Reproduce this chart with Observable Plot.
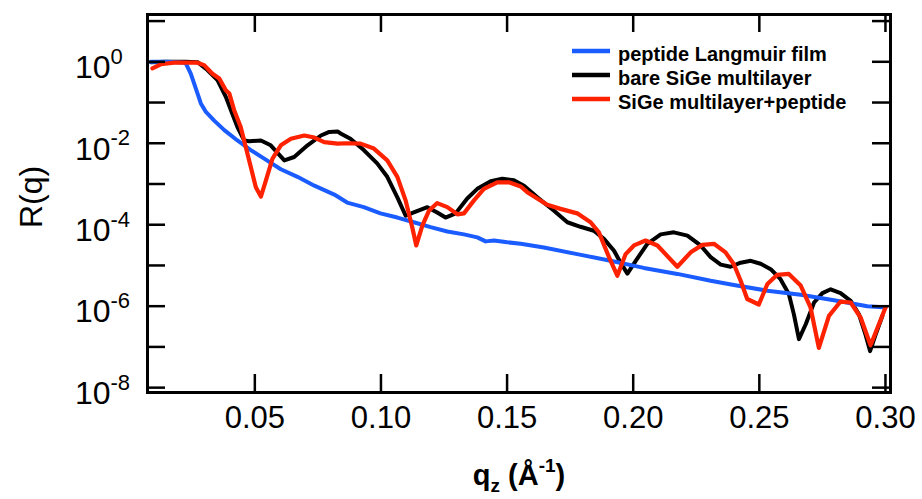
<!DOCTYPE html>
<html><head><meta charset="utf-8">
<script src="https://cdn.jsdelivr.net/npm/d3@7"></script>
<script src="https://cdn.jsdelivr.net/npm/@observablehq/plot@0.6"></script>
<style>body{margin:0;background:#fff}#chart svg{display:block}</style>
</head><body><div id="chart"></div>
<script>
const seriesNames = ["peptide Langmuir film", "bare SiGe multilayer", "SiGe multilayer+peptide"];
const seriesColors = ["#1a5cff", "#000000", "#ff2200"];

const qLangmuir = [0.0088, 0.015, 0.0225, 0.0246, 0.0273, 0.0286, 0.0306, 0.0339, 0.0379, 0.0431, 0.0484, 0.0537, 0.0603, 0.0669, 0.0736, 0.0815, 0.0866, 0.0932, 0.0998, 0.1065, 0.1130, 0.1197, 0.1263, 0.1329, 0.1382, 0.1415, 0.1448, 0.1501, 0.1554, 0.1646, 0.1778, 0.1910, 0.2042, 0.2175, 0.2307, 0.2399, 0.2532, 0.2664, 0.2796, 0.2928, 0.3001];
const rLangmuir = [1.0, 1.0, 0.95, 0.51, 0.166, 0.095, 0.059, 0.036, 0.021, 0.0117, 0.0068, 0.0042, 0.0023, 0.0015, 9.1e-4, 5.5e-4, 3.5e-4, 2.7e-4, 1.9e-4, 1.5e-4, 1.15e-4, 8.7e-5, 6.8e-5, 5.8e-5, 4.9e-5, 3.9e-5, 4.1e-5, 3.7e-5, 3.4e-5, 2.75e-5, 1.9e-5, 1.3e-5, 8.7e-6, 6.2e-6, 4.2e-6, 3.3e-6, 2.4e-6, 1.9e-6, 1.4e-6, 1.0e-6, 9.3e-7];

const qBare = [0.0088, 0.015, 0.0225, 0.0273, 0.0312, 0.0352, 0.0385, 0.0405, 0.0431, 0.0458, 0.0478, 0.0524, 0.0563, 0.0617, 0.0656, 0.0709, 0.0762, 0.0795, 0.0828, 0.0840, 0.0879, 0.0932, 0.0985, 0.1025, 0.1065, 0.1098, 0.1130, 0.1184, 0.1223, 0.1256, 0.1296, 0.1342, 0.1382, 0.1435, 0.1481, 0.1527, 0.1567, 0.1620, 0.1686, 0.1739, 0.1791, 0.1844, 0.1884, 0.1924, 0.1950, 0.1977, 0.2010, 0.2056, 0.2109, 0.2161, 0.2215, 0.2267, 0.2307, 0.2347, 0.2386, 0.2426, 0.2466, 0.2505, 0.2545, 0.2584, 0.2617, 0.2637, 0.2657, 0.2684, 0.2717, 0.2750, 0.2783, 0.2822, 0.2862, 0.2895, 0.2921, 0.2939, 0.2961, 0.2988];
const rBare = [0.98, 1.0, 1.0, 0.98, 0.63, 0.355, 0.138, 0.065, 0.025, 0.0117, 0.0112, 0.0117, 0.0089, 0.0038, 0.0046, 0.0089, 0.0155, 0.019, 0.0195, 0.0174, 0.0129, 0.0068, 0.0032, 0.0015, 4.7e-4, 1.66e-4, 2.0e-4, 2.7e-4, 2.0e-4, 1.5e-4, 1.9e-4, 4.4e-4, 7.6e-4, 1.17e-3, 1.35e-3, 1.23e-3, 9.1e-4, 4.7e-4, 2.2e-4, 1.15e-4, 8.9e-5, 7.1e-5, 4.5e-5, 2.3e-5, 1.17e-5, 6.3e-6, 1.3e-5, 3.4e-5, 5.8e-5, 6.5e-5, 5.4e-5, 3.1e-5, 1.6e-5, 1.05e-5, 9.3e-6, 1.17e-5, 1.3e-5, 1.1e-5, 8.1e-6, 4.6e-6, 2.0e-6, 6.3e-7, 1.55e-7, 3.6e-7, 1.23e-6, 2.1e-6, 2.6e-6, 2.1e-6, 1.35e-6, 6.3e-7, 2.0e-7, 7.9e-8, 2.0e-7, 5.8e-7];

const qPeptide = [0.0094, 0.0127, 0.0180, 0.0273, 0.0299, 0.0332, 0.0359, 0.0385, 0.0399, 0.0418, 0.0444, 0.0464, 0.0484, 0.0504, 0.0524, 0.0544, 0.0570, 0.0603, 0.0643, 0.0696, 0.0736, 0.0775, 0.0828, 0.0866, 0.0919, 0.0972, 0.1025, 0.1065, 0.1098, 0.1124, 0.1140, 0.1164, 0.1190, 0.1223, 0.1263, 0.1303, 0.1329, 0.1368, 0.1408, 0.1461, 0.1507, 0.1554, 0.1580, 0.1659, 0.1712, 0.1778, 0.1831, 0.1864, 0.1904, 0.1937, 0.1970, 0.2003, 0.2049, 0.2096, 0.2175, 0.2228, 0.2274, 0.2320, 0.2366, 0.2399, 0.2426, 0.2452, 0.2498, 0.2532, 0.2571, 0.2617, 0.2664, 0.2703, 0.2736, 0.2776, 0.2822, 0.2862, 0.2902, 0.2941, 0.2974, 0.3001];
const rPeptide = [0.69, 0.87, 0.95, 0.95, 0.83, 0.51, 0.39, 0.20, 0.166, 0.065, 0.025, 0.0081, 0.0026, 8.3e-4, 4.9e-4, 1.23e-3, 4.2e-3, 8.9e-3, 0.0129, 0.0155, 0.0138, 0.0107, 0.0098, 0.010, 0.0098, 0.0074, 0.0038, 0.0015, 3.9e-4, 8.7e-5, 3.1e-5, 9.5e-5, 2.2e-4, 3.4e-4, 2.7e-4, 1.8e-4, 1.9e-4, 3.9e-4, 7.6e-4, 1.1e-3, 1.1e-3, 8.7e-4, 6.3e-4, 3.1e-4, 2.45e-4, 1.9e-4, 1.15e-4, 6.5e-5, 1.6e-5, 5.6e-6, 1.9e-5, 3.1e-5, 4.1e-5, 3.1e-5, 9.3e-6, 2.1e-5, 3.2e-5, 3.4e-5, 2.1e-5, 1.07e-5, 4.2e-6, 1.5e-6, 1.1e-6, 3.5e-6, 5.9e-6, 6.2e-6, 3.2e-6, 9.3e-7, 9.5e-8, 5.8e-7, 1.3e-6, 1.23e-6, 5.2e-7, 1.1e-7, 3.6e-7, 9.5e-7];

const xTicks = [0.05, 0.10, 0.15, 0.20, 0.25, 0.30];
const xTickLabels = ["0.05", "0.10", "0.15", "0.20", "0.25", "0.30"];
const yTicks = [1e-8, 1e-7, 1e-6, 1e-5, 1e-4, 1e-3, 1e-2, 1e-1, 1, 10];
const yLabelTicks = [1, 1e-2, 1e-4, 1e-6, 1e-8];
const yLabelExponents = ["0", "-2", "-4", "-6", "-8"];
const xDomain = [0.00745, 0.302];
const yDomain = [7.6e-9, 14.5];

const toRows = (qs, rs, name) => qs.map((q, i) => ({q, r: rs[i], series: name}));
const langmuirRows = toRows(qLangmuir, rLangmuir, seriesNames[0]);
const bareRows = toRows(qBare, rBare, seriesNames[1]);
const peptideRows = toRows(qPeptide, rPeptide, seriesNames[2]);

const W = 922, H = 499, mL = 147, mR = 32, mT = 14, mB = 107;
const pw = W - mL - mR, ph = H - mT - mB;
const tickLen = 18;
const font = "'Liberation Sans', Arial, Helvetica, sans-serif";

const lineOpts = (c, sw) => ({x: "q", y: "r", stroke: c, strokeWidth: sw, strokeLinejoin: "round", strokeLinecap: "round"});

const svg = Plot.plot({
  width: W, height: H,
  marginLeft: mL, marginRight: mR, marginTop: mT, marginBottom: mB,
  style: {fontFamily: font, background: "white", color: "black", overflow: "visible"},
  x: {domain: xDomain, axis: null},
  y: {type: "log", domain: yDomain, axis: null},
  marks: [
    Plot.line(bareRows, lineOpts(seriesColors[1], 4)),
    Plot.line(langmuirRows, lineOpts(seriesColors[0], 4)),
    Plot.line(peptideRows, lineOpts(seriesColors[2], 4.2)),
    Plot.tickY(yTicks, {y: d => d, stroke: "black", strokeWidth: 2.5, insetRight: pw - tickLen}),
    Plot.tickY(yTicks, {y: d => d, stroke: "black", strokeWidth: 2.5, insetLeft: pw - tickLen}),
    Plot.tickX(xTicks, {x: d => d, stroke: "black", strokeWidth: 2.5, insetBottom: ph - tickLen}),
    Plot.tickX(xTicks, {x: d => d, stroke: "black", strokeWidth: 2.5, insetTop: ph - tickLen}),
    Plot.frame({stroke: "black", strokeWidth: 3}),
    Plot.text(xTicks, {x: d => d, text: (d, i) => xTickLabels[i], frameAnchor: "bottom", lineAnchor: "top", dy: 13, fontSize: 31, fill: "black"}),
    Plot.text(yLabelTicks, {y: d => d, text: () => "10", frameAnchor: "left", textAnchor: "end", dx: -37, dy: 6, fontSize: 32, fill: "black"}),
    Plot.text(yLabelTicks, {y: d => d, text: (d, i) => yLabelExponents[i], frameAnchor: "left", textAnchor: "start", dx: -37, dy: -5, fontSize: 22, fill: "black"})
  ]
});

const s = d3.select(svg);
// y-axis title
s.append("text")
  .attr("transform", "translate(31,197) rotate(-90)")
  .attr("text-anchor", "middle").attr("dominant-baseline", "central")
  .attr("font-family", font).attr("font-size", 32).attr("fill", "black")
  .text("R(q)");
// x-axis title
const xt = s.append("text")
  .attr("x", 519).attr("y", 485)
  .attr("text-anchor", "middle")
  .attr("font-family", font).attr("font-size", 29).attr("font-weight", "bold").attr("fill", "black");
xt.append("tspan").text("q");
xt.append("tspan").attr("font-size", 19).attr("dy", 7).text("z");
xt.append("tspan").attr("dy", -7).text(" (Å");
xt.append("tspan").attr("font-size", 19).attr("dy", -13).text("-1");
xt.append("tspan").attr("dy", 13).text(")");
// legend
const lg = s.append("g");
seriesNames.forEach((name, i) => {
  const y = 51 + i * 24;
  lg.append("line").attr("x1", 572).attr("x2", 610).attr("y1", y).attr("y2", y)
    .attr("stroke", seriesColors[i]).attr("stroke-width", 4.5);
  lg.append("text").attr("x", 618).attr("y", y + 3).attr("dominant-baseline", "central")
    .attr("text-anchor", "start")
    .attr("font-family", font).attr("font-size", 20).attr("font-weight", "bold").attr("fill", "black")
    .text(name);
});

document.getElementById("chart").appendChild(svg);
</script>
</body></html>
